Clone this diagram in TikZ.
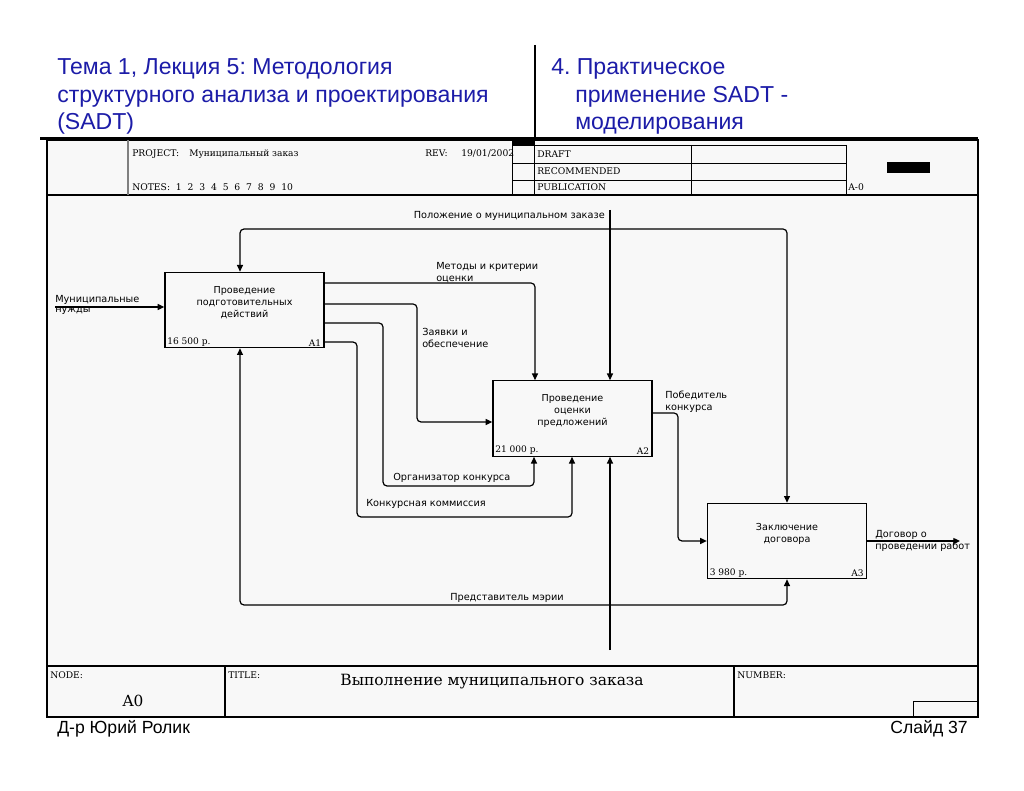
\documentclass[tikz,border=0pt]{standalone}
\usepackage{fontspec}
\setmainfont{Liberation Sans}
\newfontfamily\lab{DejaVu Sans}
\newfontfamily\ser{DejaVu Serif}
\usetikzlibrary{arrows.meta}
\definecolor{ttl}{RGB}{28,28,168}
\definecolor{paper}{RGB}{248,248,248}
\frenchspacing
\tikzset{
  box/.style={draw, line width=1pt, minimum width=119.25pt, minimum height=56.5pt, inner sep=0pt},
  btxt/.style={font=\lab\fontsize{7.2}{9}\selectfont, align=center, inner sep=0pt},
  lbl/.style={font=\lab\fontsize{7.3}{9}\selectfont, align=left, inner sep=0pt},
  num/.style={font=\ser\fontsize{6.8}{8}\selectfont, inner sep=0pt},
  hdr/.style={font=\ser\fontsize{6.9}{8}\selectfont, inner sep=0pt, anchor=base west},
  arr/.style={draw, line width=0.9pt, rounded corners=3pt, -{Triangle[length=5pt,width=4.5pt]}},
  frm/.style={draw, line width=0.9pt},
  thin/.style={draw, line width=0.6pt},
  big/.style={font=\fontsize{17.3}{20}\selectfont, text=ttl, inner sep=0pt, anchor=base west},
  foot/.style={font=\fontsize{13.2}{16}\selectfont, inner sep=0pt, anchor=base west}
}
\begin{document}
\begin{tikzpicture}[x=0.75pt,y=-0.75pt]
\useasboundingbox (0,0) rectangle (1024,791);
\fill[white] (0,0) rectangle (1024,791);
% slide titles
\node[big] (t1) at (57,75) {Тема 1, Лекция 5: Методология};
\node[big] (t2) at (t1.base west |- 0,103) {структурного анализа и проектирования};
\node[big] (t3) at (t1.base west |- 0,130) {\strut(SADT)};
\node[big] (r1) at (551,75) {4. Практическое};
\node[big] (r2) at (575,103) {применение SADT -};
\node[big] (r3) at (575,130) {моделирования};
\draw[line width=2.2pt] (535,45) -- (535,138);
% sheet frame
\fill[paper] (47,140) rectangle (978,717);
\draw[line width=2.2pt] (40,138.5) -- (978,138.5);
\draw[frm] (47,140) rectangle (978,717);
\draw[frm] (47,195) -- (978,195);
\draw[line width=1.2pt, gray] (128,140) -- (128,195);
\draw[thin] (512,145) -- (512,195);
\draw[thin] (534,140) -- (534,195);
\draw[thin] (691,145) -- (691,195);
\draw[thin] (846,145) -- (846,195);
\fill[black] (512,140) rectangle (534,145);
\draw[thin] (512,145) -- (846,145);
\draw[thin] (512,163) -- (846,163);
\draw[thin] (512,180) -- (846,180);
\fill[black] (887,162) rectangle (930,173);
\node[hdr] (hp) at (132,157) {PROJECT:};
\node[hdr, font=\ser\fontsize{6.8}{8}\selectfont] (hpv) at (189,157) {Муниципальный заказ};
\node[hdr] (hr) at (425,157) {REV:};
\node[hdr] (hrv) at (461,157) {19/01/2002};
\node[hdr] (hn) at (132,191) {NOTES:\ \ 1\ \ 2\ \ 3\ \ 4\ \ 5\ \ 6\ \ 7\ \ 8\ \ 9\ \ 10};
\node[hdr] (hd) at (537,158) {DRAFT};
\node[hdr] (hrc) at (537,175) {RECOMMENDED};
\node[hdr] (hpb) at (537,191) {PUBLICATION};
\node[hdr] (ha) at (848,191) {A-0};
% bottom block
\draw[frm] (47,666) -- (978,666);
\draw[frm] (225,666) -- (225,717);
\draw[frm] (734,666) -- (734,717);
\draw[thin] (913,717) -- (913,701) -- (978,701);
\node[hdr] (fn) at (50,678) {NODE:};
\node[hdr] (ft) at (228,678) {TITLE:};
\node[hdr] (fnum) at (737,678) {NUMBER:};
\node[font=\ser\fontsize{11.5}{14}\selectfont, inner sep=0pt, anchor=base] (fa) at (133,706) {A0};
\node[font=\ser\fontsize{11.6}{14}\selectfont, inner sep=0pt, anchor=base] (ftt) at (492,685) {Выполнение муниципального заказа};
% footer
\node[foot] (fl) at (57,733) {Д-р Юрий Ролик};
\node[foot, anchor=base east] (fr) at (968,733) {Слайд 37};
% activity boxes
\node[box] (A1) at (244.5,310) {};
\node[box] (A2) at (572.5,418.5) {};
\node[box] (A3) at (787,541) {};
\node[btxt] (A1t) at (244.5,303) {Проведение\\подготовительных\\действий};
\node[btxt] (A2t) at (572.5,411) {Проведение\\оценки\\предложений};
\node[btxt] (A3t) at (787,534) {Заключение\\договора};
\node[num, anchor=south west] (A1c) at ([shift={(2pt,1.5pt)}]A1.south west) {16 500 р.};
\node[num, anchor=south east] (A1n) at ([shift={(-2.5pt,1.5pt)}]A1.south east) {A1};
\node[num, anchor=south west] (A2c) at ([shift={(2pt,1.5pt)}]A2.south west) {21 000 р.};
\node[num, anchor=south east] (A2n) at ([shift={(-2.5pt,1.5pt)}]A2.south east) {A2};
\node[num, anchor=south west] (A3c) at ([shift={(2pt,1.5pt)}]A3.south west) {3 980 р.};
\node[num, anchor=south east] (A3n) at ([shift={(-2.5pt,1.5pt)}]A3.south east) {A3};
% helper coordinates
\coordinate (x240) at (240,0);
\coordinate (x357) at (357,0);
\coordinate (x383) at (383,0);
\coordinate (x417) at (417,0);
\coordinate (x534) at (534,0);
\coordinate (x535) at (535,0);
\coordinate (x572) at (572,0);
\coordinate (x678) at (678,0);
\coordinate (x787) at (787,0);
\coordinate (y283) at (0,283);
\coordinate (y304) at (0,304);
\coordinate (y323) at (0,323);
\coordinate (y342) at (0,342);
\coordinate (y413) at (0,413);
\coordinate (y422) at (0,422);
\coordinate (y486) at (0,486);
\coordinate (y517) at (0,517);
\coordinate (in1) at (55,307);
\coordinate (ctop) at (610,210);
\coordinate (cj) at (610,229);
\coordinate (mbot) at (610,650);
\coordinate (mj) at (610,605);
\coordinate (out9) at (960,541);
% input
\draw[arr] (in1) -- (in1 -| A1.west);
\node[lbl, anchor=base west] (l1) at (55,303) {Муниципальные};
\node[lbl, anchor=base west] (l1b) at (55,313) {нужды};
% control
\draw[arr] (ctop) -- (ctop |- A2.north);
\draw[arr] (cj) -| (x240 |- A1.north);
\draw[arr] (cj) -| (x787 |- A3.north);
\node[lbl, anchor=base east] (l2) at (605,219) {Положение о муниципальном заказе};
% A1 outputs
\draw[arr] (A1.east |- y283) -| (x535 |- A2.north);
\node[lbl, anchor=south west] (l3) at (436,283) {Методы и критерии\\оценки};
\draw[arr] (A1.east |- y304) -| (x417 |- y422) -- (A2.west |- y422);
\node[lbl, anchor=north west] (l4) at (422,328) {Заявки и\\обеспечение};
\draw[arr] (A1.east |- y323) -| (x383 |- y486) -| (x534 |- A2.south);
\node[lbl, anchor=base west] (l5) at (393,480) {Организатор конкурса};
\draw[arr] (A1.east |- y342) -| (x357 |- y517) -| (x572 |- A2.south);
\node[lbl, anchor=base west] (l6) at (366,506) {Конкурсная коммиссия};
% mechanism
\draw[arr] (mbot) -- (mbot |- A2.south);
\draw[arr] (mj) -| (x240 |- A1.south);
\draw[arr] (mj) -| (x787 |- A3.south);
\node[lbl, anchor=base] (l7) at (507,600) {Представитель мэрии};
% A2 output
\draw[arr] (A2.east |- y413) -| (x678 |- A3.west) -- (A3.west);
\node[lbl, anchor=south west] (l8) at (665,413) {Победитель\\конкурса};
% A3 output
\draw[arr] (A3.east) -- (out9);
\node[lbl, anchor=west] (l9) at (875,541) {Договор о\\проведении работ};
\end{tikzpicture}
\end{document}
